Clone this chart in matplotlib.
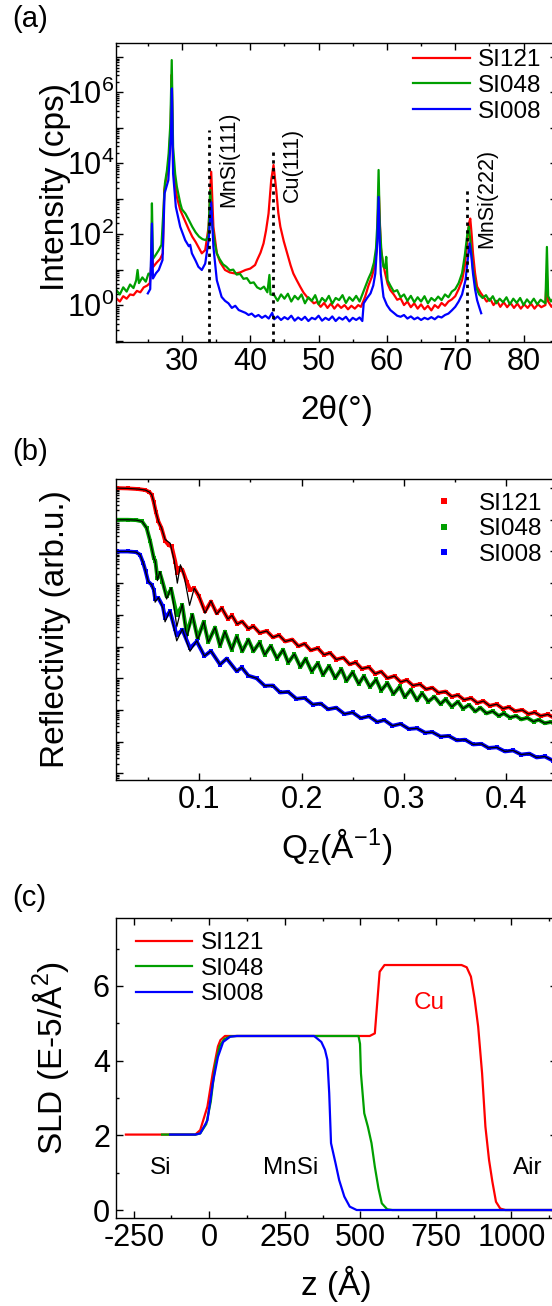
import numpy as np
import matplotlib
matplotlib.use("Agg")
import matplotlib.pyplot as plt
from matplotlib.ticker import (LogLocator, AutoMinorLocator, MultipleLocator,
                               FuncFormatter, NullFormatter)
from matplotlib.lines import Line2D

plt.rcParams['font.family'] = ['Liberation Sans', 'DejaVu Sans']
plt.rcParams['mathtext.fontset'] = 'custom'
plt.rcParams['mathtext.rm'] = 'Liberation Sans'
plt.rcParams['mathtext.it'] = 'Liberation Sans:italic'
plt.rcParams['mathtext.default'] = 'regular'
plt.rcParams['axes.unicode_minus'] = False

samples = ["SI121", "SI048", "SI008"]
colors = ["#ff0000", "#009f00", "#0000ff"]

# ---- (a) XRD: 2theta (deg), log10 intensity (cps)
tt_red = [20.4, 20.9, 21.4, 21.9, 22.4, 22.9, 23.4, 23.9, 24.4, 24.9,
          25.3, 25.6, 25.8, 26.3, 26.8, 27.2, 27.4, 27.8, 28.1, 28.35,
          28.5, 28.7, 29.0, 29.25, 29.75, 30.5, 31.0, 31.5, 32.0, 32.4,
          32.9, 33.4, 33.9, 34.28, 34.6, 35.1, 35.6, 36.3, 37.0, 37.8,
          38.5, 39.3, 40.0, 40.7, 41.0, 41.5, 41.94, 42.3, 42.67, 43.06,
          43.4, 43.8, 44.1, 44.4, 44.9, 45.4, 45.9, 46.3, 46.8, 47.3,
          47.8, 48.3, 48.8, 49.3, 49.75, 50.3, 50.8, 51.3, 51.8, 52.3,
          52.8, 53.3, 53.8, 54.3, 54.8, 55.3, 55.8, 56.2, 56.8, 57.3,
          57.8, 58.2, 58.5, 58.8, 59.1, 59.4, 59.75, 60.1, 60.5, 61.0,
          61.5, 62.0, 62.5, 63.0, 63.5, 64.0, 64.5, 65.0, 65.5, 66.0,
          66.5, 67.0, 67.5, 68.0, 68.5, 69.0, 69.5, 70.0, 70.5, 71.0,
          71.4, 71.7, 72.0, 72.2, 72.4, 72.6, 72.9, 73.2, 73.7, 74.15,
          74.6, 75.1, 75.6, 76.1, 76.6, 77.1, 77.6, 78.1, 78.6, 79.1,
          79.6, 80.1, 80.6, 81.1, 81.6, 82.1, 82.6, 83.2, 83.4, 83.6,
          84.1, 84.6, 85.0]
li_red = [0.19, 0.10, 0.25, 0.18, 0.30, 0.28, 0.40, 0.36, 0.50, 0.55,
          0.62, 1.40, 1.08, 1.20, 1.30, 1.46, 3.24, 3.70, 4.10, 5.12,
          6.50, 3.90, 3.40, 3.05, 2.68, 2.35, 2.13, 1.93, 1.78, 1.64,
          1.46, 1.55, 2.21, 3.76, 2.21, 1.46, 1.20, 0.99, 0.92, 0.89,
          0.92, 0.99, 1.03, 1.13, 1.27, 1.48, 1.74, 2.10, 2.58, 3.52,
          3.95, 3.24, 2.60, 2.21, 1.80, 1.46, 1.12, 0.89, 0.70, 0.52,
          0.35, 0.23, 0.15, 0.05, 0.09, -0.05, 0.06, -0.08, 0.04, -0.10,
          0.02, -0.08, 0.00, -0.12, -0.02, -0.10, 0.00, -0.05, 0.23, 0.55,
          0.80, 1.10, 1.55, 3.24, 1.64, 1.20, 0.89, 0.60, 0.42, 0.30,
          0.15, 0.19, 0.00, 0.10, -0.06, 0.05, -0.10, 0.02, -0.12, -0.02,
          -0.15, 0.00, -0.08, 0.06, -0.02, 0.10, 0.16, 0.25, 0.45, 0.70,
          1.10, 1.64, 2.30, 2.44, 2.00, 1.46, 0.90, 0.52, 0.35, 0.23,
          0.10, 0.18, 0.00, 0.12, -0.05, 0.08, -0.06, 0.06, -0.08, 0.04,
          -0.10, 0.02, -0.08, 0.04, -0.10, 0.02, -0.06, 0.00, 0.89, 0.10,
          -0.05, 0.08, -0.04]

tt_grn = [20.4, 20.9, 21.4, 21.9, 22.4, 22.9, 23.3, 23.5, 23.7, 24.2,
          24.7, 25.1, 25.45, 25.6, 25.75, 26.1, 26.6, 27.0, 27.3, 27.5,
          27.8, 28.05, 28.3, 28.5, 28.7, 29.0, 29.25, 29.75, 30.0, 30.5,
          31.0, 31.5, 32.0, 32.5, 33.0, 33.5, 33.85, 34.13, 34.45, 34.8,
          35.1, 35.5, 36.0, 36.5, 37.0, 37.5, 38.0, 38.5, 39.0, 39.5,
          40.0, 40.5, 41.0, 41.5, 42.0, 42.5, 42.8, 42.95, 43.5, 44.0,
          44.5, 45.0, 45.5, 46.0, 46.5, 47.0, 47.5, 48.0, 48.5, 49.0,
          49.5, 50.0, 50.5, 51.0, 51.5, 52.0, 52.5, 53.0, 53.5, 54.0,
          54.5, 55.0, 55.5, 56.0, 56.5, 56.9, 57.3, 57.7, 58.1, 58.4,
          58.6, 58.78, 58.95, 59.2, 59.5, 59.75, 59.9, 60.1, 60.5, 61.0,
          61.5, 62.0, 62.5, 63.0, 63.5, 64.0, 64.5, 65.0, 65.5, 66.0,
          66.5, 67.0, 67.5, 68.0, 68.5, 69.0, 69.5, 70.0, 70.5, 71.0,
          71.4, 71.8, 72.0, 72.3, 72.6, 73.0, 73.5, 74.0, 74.5, 75.0,
          75.5, 76.0, 76.5, 77.0, 77.5, 78.0, 78.5, 79.0, 79.5, 80.0,
          80.5, 81.0, 81.5, 82.0, 82.5, 83.2, 83.42, 83.6, 84.0, 84.5,
          85.0]
li_grn = [0.42, 0.30, 0.50, 0.38, 0.58, 0.48, 0.70, 0.99, 0.62, 0.78,
          0.66, 0.89, 0.85, 2.87, 1.30, 1.40, 1.55, 1.70, 2.75, 3.43,
          3.80, 4.28, 5.12, 6.91, 4.46, 3.70, 3.34, 2.87, 2.70, 2.58,
          2.40, 2.21, 2.05, 1.93, 1.86, 1.83, 1.95, 3.24, 2.21, 1.75,
          1.46, 1.30, 1.15, 1.08, 0.98, 1.00, 0.86, 0.88, 0.74, 0.76,
          0.62, 0.64, 0.50, 0.45, 0.52, 0.36, 0.85, 0.30, 0.28, 0.12,
          0.30, 0.18, 0.32, 0.10, 0.26, 0.16, 0.30, 0.05, 0.22, 0.12,
          0.28, 0.02, 0.20, 0.10, 0.26, 0.04, 0.20, 0.14, 0.28, 0.06,
          0.22, 0.12, 0.26, 0.10, 0.35, 0.55, 0.75, 0.92, 1.20, 1.60,
          2.30, 3.81, 2.30, 1.50, 1.08, 1.05, 1.36, 0.70, 0.55, 0.38,
          0.42, 0.22, 0.30, 0.12, 0.26, 0.08, 0.22, 0.10, 0.25, 0.05,
          0.20, 0.12, 0.24, 0.14, 0.30, 0.22, 0.38, 0.45, 0.62, 0.90,
          1.40, 2.05, 2.21, 1.64, 1.00, 0.52, 0.30, 0.20, 0.28, 0.12,
          0.25, 0.05, 0.18, 0.08, 0.22, 0.02, 0.18, 0.06, 0.20, 0.00,
          0.16, 0.04, 0.18, 0.02, 0.15, 0.05, 1.64, 0.25, 0.10, 0.22,
          0.08]

tt_blu = [25.0, 25.35, 25.6, 25.75, 26.2, 26.6, 27.15, 27.45, 28.0, 28.4,
          28.52, 28.7, 29.1, 29.74, 30.47, 31.0, 31.2, 31.45, 32.0, 32.4,
          32.9, 33.4, 33.9, 34.28, 34.6, 35.1, 35.8, 36.3, 36.8, 37.3,
          37.8, 38.3, 38.8, 39.3, 39.75, 40.2, 40.7, 41.2, 41.7, 42.2,
          42.7, 43.2, 43.5, 44.0, 44.5, 45.0, 45.5, 46.0, 46.5, 47.0,
          47.5, 48.0, 48.5, 49.0, 49.5, 50.0, 50.5, 51.0, 51.5, 52.0,
          52.5, 53.0, 53.5, 54.0, 54.5, 55.0, 55.5, 56.0, 56.4, 56.6,
          57.1, 57.6, 58.0, 58.3, 58.6, 58.78, 58.95, 59.1, 59.5, 60.0,
          60.5, 61.0, 61.5, 62.0, 62.5, 63.0, 63.5, 64.0, 64.5, 65.0,
          65.5, 66.0, 66.5, 67.0, 67.5, 68.0, 68.5, 69.0, 69.5, 70.0,
          70.5, 71.0, 71.5, 71.9, 72.1, 72.35, 72.6, 72.9, 73.2, 73.5,
          73.8]
li_blu = [0.33, 0.45, 2.30, 0.75, 0.90, 0.99, 1.27, 3.15, 3.52, 4.84,
          6.11, 3.71, 2.77, 2.21, 1.83, 1.66, 1.70, 1.46, 1.25, 1.08,
          0.99, 1.17, 1.83, 2.90, 1.64, 0.70, 0.23, 0.12, 0.05, -0.08,
          -0.02, -0.14, -0.18, -0.22, -0.28, -0.24, -0.33, -0.28, -0.36, -0.30,
          -0.38, -0.22, -0.40, -0.32, -0.42, -0.34, -0.40, -0.30, -0.44, -0.35,
          -0.42, -0.33, -0.45, -0.36, -0.40, -0.30, -0.44, -0.36, -0.42, -0.32,
          -0.45, -0.35, -0.41, -0.33, -0.46, -0.36, -0.42, -0.35, -0.45, 0.05,
          0.20, 0.33, 0.55, 0.89, 1.80, 3.05, 1.80, 0.89, 0.23, 0.00,
          -0.14, -0.22, -0.30, -0.33, -0.28, -0.38, -0.32, -0.40, -0.35, -0.42,
          -0.36, -0.40, -0.34, -0.40, -0.32, -0.35, -0.28, -0.24, -0.15, -0.05,
          0.10, 0.30, 0.70, 1.40, 1.74, 1.40, 0.89, 0.45, 0.14, -0.05,
          -0.23]

peak_names = ["MnSi(111)", "Cu(111)", "MnSi(222)"]
peak_tt = [34.0, 43.3, 71.7]
peak_top = [4.93, 4.32, 3.34]        # log10 of dotted line top
peak_label_tt = [36.8, 46.1, 74.55]
peak_label_y = [2.77, 2.91, 1.60]    # log10 of label bottom

# ---- (b) reflectivity: Q (1/A), log10 R (offset)
q_red = [0.019, 0.030, 0.040, 0.047, 0.051, 0.0535, 0.0555, 0.0575, 0.060, 0.063,
         0.0665, 0.070, 0.073, 0.0765, 0.0785, 0.0815, 0.0835, 0.0876, 0.091, 0.095,
         0.0997, 0.1056, 0.1114, 0.117, 0.122, 0.128, 0.132, 0.137, 0.142, 0.148,
         0.153, 0.159, 0.166, 0.172, 0.178, 0.184, 0.191, 0.197, 0.203, 0.209,
         0.216, 0.222, 0.228, 0.234, 0.241, 0.247, 0.253, 0.259, 0.266, 0.272,
         0.278, 0.284, 0.291, 0.297, 0.303, 0.309, 0.316, 0.322, 0.328, 0.334,
         0.341, 0.347, 0.353, 0.359, 0.366, 0.372, 0.378, 0.384, 0.391, 0.397,
         0.403, 0.409, 0.416, 0.422, 0.428, 0.434, 0.441, 0.447, 0.452]
r_red = [0.00, -0.01, -0.03, -0.06, -0.12, -0.21, -0.45, -0.75, -1.05, -1.26,
         -1.66, -1.80, -1.84, -2.32, -2.68, -2.53, -2.58, -2.95, -3.21, -3.16,
         -3.42, -3.89, -3.58, -3.95, -3.79, -4.13, -4.02, -4.29, -4.21, -4.44,
         -4.36, -4.57, -4.51, -4.71, -4.64, -4.84, -4.78, -4.99, -4.91, -5.12,
         -5.05, -5.26, -5.20, -5.41, -5.35, -5.56, -5.50, -5.70, -5.65, -5.86,
         -5.79, -6.00, -5.93, -6.12, -6.06, -6.23, -6.19, -6.35, -6.30, -6.46,
         -6.42, -6.58, -6.53, -6.68, -6.63, -6.78, -6.72, -6.87, -6.82, -6.96,
         -6.91, -7.04, -7.00, -7.13, -7.08, -7.19, -7.14, -7.25, -7.22]
qf_red = [0.019, 0.030, 0.040, 0.047, 0.051, 0.0535, 0.0555, 0.0575, 0.060, 0.063,
          0.0665, 0.0715, 0.0755, 0.0785, 0.0815, 0.085, 0.0905, 0.095, 0.0997, 0.1056,
          0.1114, 0.117, 0.122]
rf_red = [0.00, -0.01, -0.03, -0.06, -0.12, -0.21, -0.45, -0.75, -1.05, -1.26,
          -1.62, -1.74, -2.30, -3.00, -2.42, -2.75, -3.70, -3.16, -3.40, -3.95,
          -3.56, -3.98, -3.78]

q_grn = [0.019, 0.030, 0.038, 0.044, 0.0485, 0.052, 0.0555, 0.057, 0.059, 0.0615,
         0.064, 0.068, 0.0725, 0.078, 0.0834, 0.0877, 0.0932, 0.0984, 0.1043, 0.1088,
         0.1154, 0.1203, 0.1251, 0.1317, 0.1366, 0.1421, 0.148,
         0.153, 0.159, 0.164, 0.170, 0.176, 0.182, 0.187, 0.193, 0.199, 0.204,
         0.210, 0.216, 0.221, 0.227, 0.233, 0.239, 0.244, 0.250, 0.256, 0.261,
         0.267, 0.273, 0.278, 0.284, 0.290, 0.296, 0.301, 0.307, 0.313, 0.318,
         0.324, 0.330, 0.336, 0.341, 0.347, 0.353, 0.358, 0.364, 0.370, 0.375,
         0.381, 0.387, 0.393, 0.398, 0.404, 0.410, 0.415, 0.421, 0.427, 0.432,
         0.438, 0.444, 0.450]
r_grn = [-1.00, -1.00, -1.01, -1.05, -1.26, -1.68, -2.21, -2.30, -2.84, -2.68,
         -2.95, -3.42, -3.19, -4.00, -3.70, -4.60, -4.00, -4.74, -4.22, -4.86,
         -4.40, -4.98, -4.53, -5.10, -4.68, -5.15, -4.78,
         -5.15, -4.87, -5.26, -4.98, -5.38, -5.10, -5.51, -5.24, -5.65, -5.38,
         -5.79, -5.52, -5.90, -5.61, -6.00, -5.71, -6.09, -5.81, -6.18, -5.93,
         -6.28, -6.04, -6.39, -6.15, -6.50, -6.26, -6.60, -6.36, -6.70, -6.47,
         -6.74, -6.58, -6.82, -6.66, -6.90, -6.74, -6.96, -6.84, -7.05, -6.93,
         -7.11, -7.04, -7.19, -7.11, -7.24, -7.19, -7.30, -7.25, -7.37, -7.31,
         -7.42, -7.38, -7.49]
qf_grn = [0.019, 0.030, 0.038, 0.044, 0.0485, 0.052, 0.0555, 0.057, 0.059, 0.0615,
          0.064, 0.068, 0.0725, 0.078, 0.0834, 0.0877, 0.0932, 0.0984]
rf_grn = [-1.00, -1.00, -1.01, -1.05, -1.26, -1.68, -2.21, -2.32, -2.92, -2.63,
          -2.95, -3.50, -3.14, -4.37, -3.66, -4.74, -3.98, -4.80]

q_blu = [0.019, 0.030, 0.038, 0.042, 0.0452, 0.0475, 0.050, 0.0534, 0.0555, 0.0568,
         0.060, 0.0643, 0.0665, 0.0713, 0.0762, 0.0779, 0.0834, 0.0909, 0.0975, 0.105,
         0.1114, 0.1203, 0.1268, 0.1366, 0.1415,
         0.148, 0.156, 0.164, 0.172, 0.179, 0.187, 0.195, 0.203, 0.211, 0.219,
         0.226, 0.234, 0.242, 0.250, 0.258, 0.266, 0.274, 0.281, 0.289, 0.297,
         0.305, 0.313, 0.321, 0.328, 0.336, 0.344, 0.352, 0.360, 0.368, 0.376,
         0.383, 0.391, 0.399, 0.407, 0.415, 0.423, 0.430, 0.438, 0.446, 0.452]
r_blu = [-2.00, -2.00, -2.02, -2.10, -2.37, -2.63, -2.95, -3.05, -3.21, -3.50,
         -3.47, -3.73, -4.10, -3.89, -4.45, -4.65, -4.47, -5.05, -4.84, -5.30,
         -5.14, -5.57, -5.38, -5.78, -5.66,
         -5.92, -6.00, -6.24, -6.23, -6.45, -6.43, -6.65, -6.62, -6.83, -6.80,
         -6.98, -6.93, -7.13, -7.08, -7.26, -7.20, -7.38, -7.32, -7.50, -7.44,
         -7.60, -7.58, -7.72, -7.70, -7.84, -7.82, -7.96, -7.94, -8.09, -8.07,
         -8.20, -8.18, -8.31, -8.28, -8.41, -8.38, -8.50, -8.47, -8.60, -8.59]
qf_blu = [0.019, 0.030, 0.038, 0.042, 0.0452, 0.0475, 0.050, 0.0534, 0.0555, 0.0568,
          0.060, 0.0643, 0.0665, 0.0713, 0.0762, 0.0779, 0.0834, 0.0909, 0.0975]
rf_blu = [-2.00, -2.00, -2.02, -2.10, -2.37, -2.63, -2.95, -3.05, -3.25, -3.60,
          -3.45, -3.78, -4.22, -3.87, -4.55, -4.82, -4.45, -5.15, -4.82]

# ---- (c) SLD profiles: z (A), SLD (1e-5 / A^2)
z_red = [-276, -150, -46, -30, -6, 11.5, 28.7, 37, 52, 200,
         400, 531, 548, 564, 580, 700, 835, 852, 866, 878,
         890, 903, 914, 926, 937, 949, 963, 980, 1100, 1155]
sld_red = [2.02, 2.02, 2.02, 2.14, 2.77, 3.66, 4.38, 4.55, 4.66, 4.66,
           4.66, 4.66, 4.73, 6.38, 6.56, 6.56, 6.56, 6.50, 6.25, 5.67,
           4.91, 3.66, 2.23, 1.34, 0.76, 0.22, 0.04, 0.0, 0.0, 0.0]
z_grn = [-156, -46, -30, -10, 5, 20, 35, 50, 70, 90,
         300, 494, 499, 502, 513, 525, 537, 548, 560, 571,
         589, 606, 1155]
sld_grn = [2.02, 2.02, 2.05, 2.30, 2.90, 3.90, 4.40, 4.58, 4.65, 4.66,
           4.66, 4.66, 4.45, 3.66, 2.59, 2.23, 1.79, 1.16, 0.58, 0.18,
           0.02, 0.0, 0.0]
z_blu = [-129.5, -46, -30, -6, 11.5, 28.7, 46, 69, 92, 200,
         347, 371, 383, 391, 397, 403, 418, 430, 447, 465,
         488, 1155]
sld_blu = [2.02, 2.02, 2.05, 2.40, 3.39, 4.10, 4.50, 4.64, 4.66, 4.66,
           4.66, 4.50, 4.29, 4.02, 3.13, 1.79, 1.25, 0.80, 0.36, 0.09,
           0.0, 0.0]
layer_names = ["Si", "MnSi", "Air"]
layer_z = [-162, 269, 1055]
layer_sld = 1.12
cu_pos = (727, 5.53)


def style(ax):
    ax.tick_params(which='both', direction='in', top=True, right=True,
                   labelsize=22, width=1.0)
    ax.tick_params(which='major', length=5)
    ax.tick_params(which='minor', length=2.5)
    ax.tick_params(axis='x', which='major', pad=3.6)
    ax.tick_params(axis='y', which='major', pad=4.5)
    for s in ax.spines.values():
        s.set_linewidth(1.0)


def dec_label(v, pos):
    n = int(round(np.log10(v)))
    return r'$10^{%d}$' % n if n % 2 == 0 else ''


def fit_curve(q, r, qf, rf):
    q = np.asarray(q)
    r = np.asarray(r)
    keep = q > qf[-1]
    return np.concatenate([qf, q[keep]]), np.concatenate([rf, r[keep]])


fig = plt.figure(figsize=(5.52, 13.06), dpi=100)
ax_a = fig.add_axes([0.2105, 0.7379, 0.7986, 0.2294])
ax_b = fig.add_axes([0.2105, 0.4028, 0.7986, 0.2305])
ax_c = fig.add_axes([0.2105, 0.0672, 0.7986, 0.2302])

# ---------------- (a)
for tt, li, c, lab in zip([tt_red, tt_grn, tt_blu], [li_red, li_grn, li_blu], colors, samples):
    ax_a.plot(tt, 10 ** np.array(li), color=c, lw=1.6, label=lab)
ymin_a = 10 ** -1.05
ax_a.vlines(peak_tt, ymin_a, 10 ** np.array(peak_top), colors='k',
            linestyles=(0, (1.2, 1.6)), lw=2.0)
for name, x, y in zip(peak_names, peak_label_tt, peak_label_y):
    ax_a.text(x, 10 ** y, name, rotation=90, ha='center', va='bottom', fontsize=15.5)
ax_a.set_yscale('log')
ax_a.set_xlim(20.37, 84.9)
ax_a.set_ylim(ymin_a, 10 ** 7.4)
ax_a.xaxis.set_major_locator(MultipleLocator(10))
ax_a.xaxis.set_minor_locator(MultipleLocator(5))
ax_a.yaxis.set_major_locator(LogLocator(base=10, numticks=20))
ax_a.yaxis.set_minor_locator(LogLocator(base=10, subs=np.arange(2, 10), numticks=20))
ax_a.yaxis.set_major_formatter(FuncFormatter(dec_label))
ax_a.yaxis.set_minor_formatter(NullFormatter())
style(ax_a)
ax_a.tick_params(axis='y', which='major', pad=1.5)
ax_a.set_xlabel('2θ(°)', fontsize=24)
ax_a.xaxis.set_label_coords(0.5, -0.175)
ax_a.set_ylabel('Intensity (cps)', fontsize=24)
ax_a.yaxis.set_label_coords(-0.1025, 0.519)
ax_a.legend(loc='upper left', bbox_to_anchor=(0.673, 0.978), frameon=False,
            fontsize=17.5, handlelength=2.35, handletextpad=0.33,
            labelspacing=0.15, borderpad=0, borderaxespad=0)

# ---------------- (b)
for q, r, qf, rf, c in zip([q_red, q_grn, q_blu], [r_red, r_grn, r_blu],
                           [qf_red, qf_grn, qf_blu], [rf_red, rf_grn, rf_blu], colors):
    ax_b.plot(q, 10 ** np.array(r), color=c, lw=2.8, marker='s', ms=2.2, mew=0,
              solid_joinstyle='round')
    fq, fr = fit_curve(q, r, qf, rf)
    ax_b.plot(fq, 10 ** fr, color='k', lw=0.9, solid_joinstyle='round')
ax_b.set_yscale('log')
ax_b.set_xlim(0.0187, 0.45)
ax_b.set_ylim(10 ** -9.21, 10 ** 0.29)
ax_b.xaxis.set_major_locator(MultipleLocator(0.1))
ax_b.xaxis.set_minor_locator(MultipleLocator(0.05))
ax_b.yaxis.set_major_locator(LogLocator(base=10, numticks=20))
ax_b.yaxis.set_minor_locator(LogLocator(base=10, subs=np.arange(2, 10), numticks=20))
ax_b.yaxis.set_major_formatter(NullFormatter())
ax_b.yaxis.set_minor_formatter(NullFormatter())
style(ax_b)
ax_b.set_xlabel('Q$_z$(Å$^{-1}$)', fontsize=24)
ax_b.xaxis.set_label_coords(0.5, -0.153)
ax_b.set_ylabel('Reflectivity (arb.u.)', fontsize=24)
ax_b.yaxis.set_label_coords(-0.1025, 0.5)
handles_b = [Line2D([], [], color=c, marker='s', ls='none', ms=5, mew=0) for c in colors]
ax_b.legend(handles_b, samples, loc='upper left', bbox_to_anchor=(0.716, 0.9545),
            frameon=False, fontsize=17.5, handlelength=1.0, handletextpad=0.93,
            labelspacing=0.15, borderpad=0, borderaxespad=0)

# ---------------- (c)
for z, s, c, lab in zip([z_red, z_grn, z_blu], [sld_red, sld_grn, sld_blu], colors, samples):
    ax_c.plot(z, s, color=c, lw=1.6, label=lab)
for name, z in zip(layer_names, layer_z):
    ax_c.text(z, layer_sld, name, ha='center', va='center', fontsize=17.5)
ax_c.text(cu_pos[0], cu_pos[1], "Cu", color=colors[0], ha='center', va='center', fontsize=17.5)
ax_c.set_xlim(-308, 1151)
ax_c.set_ylim(-0.22, 7.83)
ax_c.xaxis.set_major_locator(MultipleLocator(250))
ax_c.yaxis.set_major_locator(MultipleLocator(2))
ax_c.xaxis.set_minor_locator(AutoMinorLocator(2))
ax_c.yaxis.set_minor_locator(AutoMinorLocator(2))
style(ax_c)
ax_c.set_xlabel('z (Å)', fontsize=24)
ax_c.xaxis.set_label_coords(0.5, -0.159)
ax_c.set_ylabel('SLD (E-5/Å$^2$)', fontsize=24)
ax_c.yaxis.set_label_coords(-0.1025, 0.533)
ax_c.legend(loc='upper left', bbox_to_anchor=(0.044, 0.952), frameon=False,
            fontsize=17.5, handlelength=2.32, handletextpad=0.36,
            labelspacing=0.15, borderpad=0, borderaxespad=0)

for lab, y in zip(["(a)", "(b)", "(c)"], [19.2, 451.5, 897.5]):
    fig.text(12 / 552, 1 - y / 1306, lab, fontsize=21, ha='left', va='center')

fig.savefig("out.png", dpi=100)
